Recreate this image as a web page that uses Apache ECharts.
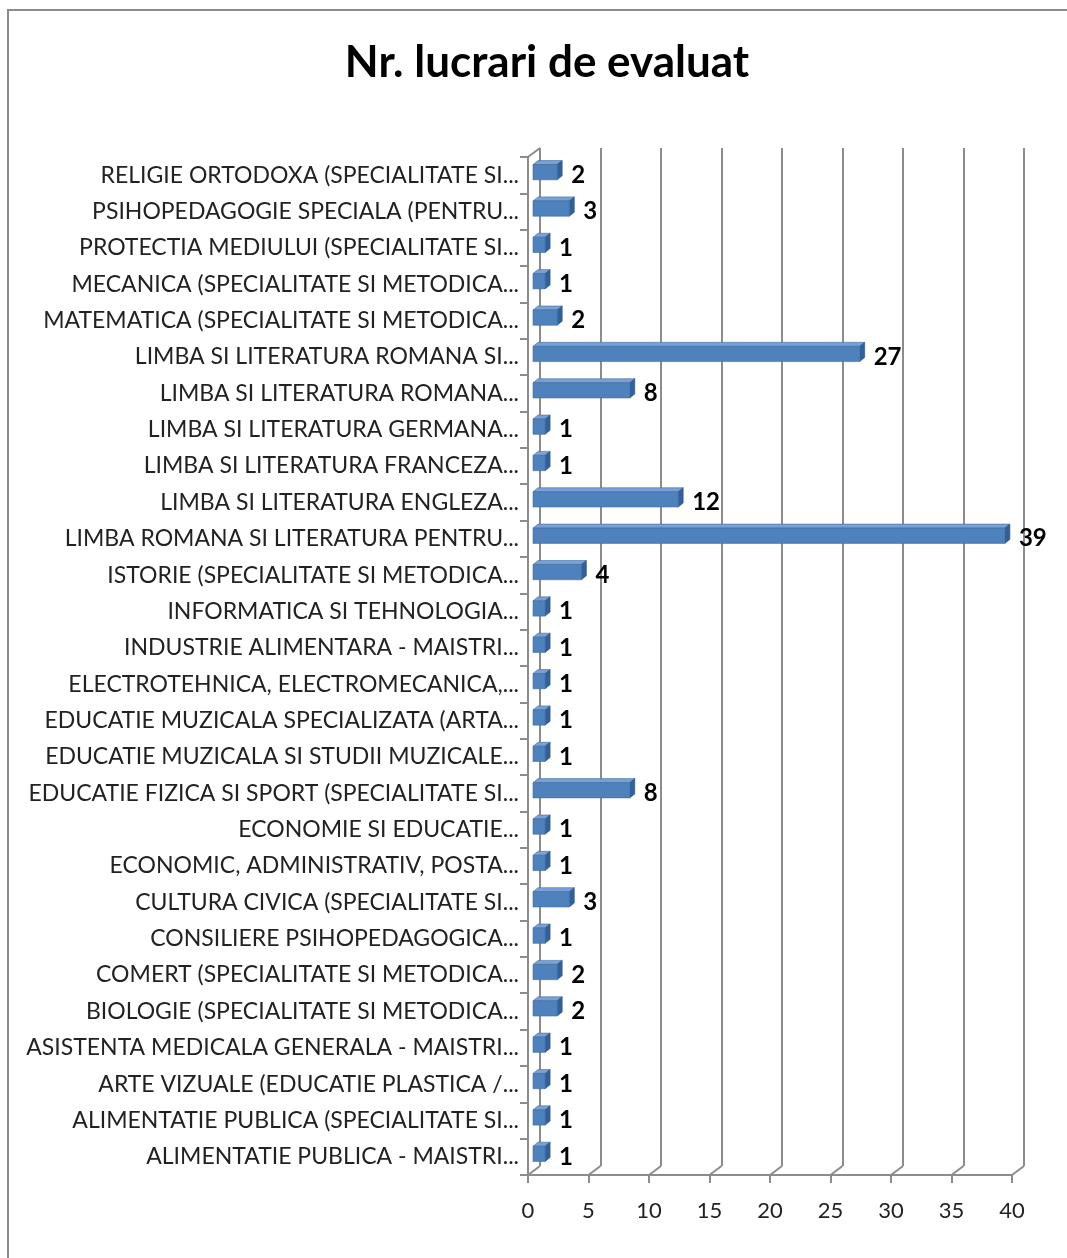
<!DOCTYPE html>
<html>
<head>
<meta charset="utf-8">
<script src="https://cdn.jsdelivr.net/npm/echarts@6/dist/echarts.min.js"></script>
<style>
  html, body { margin: 0; padding: 0; background: #fff; }
  #frame {
    position: absolute; left: 7px; top: 9px; width: 1100px; height: 1300px;
    border-left: 2px solid #8c8c8c; border-top: 2px solid #8c8c8c;
  }
  #chart { position: absolute; left: 0; top: 0; width: 1067px; height: 1258px; }
</style>
</head>
<body>
<div id="frame"></div>
<div id="chart"></div>
<script>
// categories listed bottom -> top (same order as the Excel axis)
const categories = [
  'ALIMENTATIE PUBLICA - MAISTRI...',
  'ALIMENTATIE PUBLICA (SPECIALITATE SI...',
  'ARTE VIZUALE (EDUCATIE PLASTICA /...',
  'ASISTENTA MEDICALA GENERALA - MAISTRI...',
  'BIOLOGIE (SPECIALITATE SI METODICA...',
  'COMERT (SPECIALITATE SI METODICA...',
  'CONSILIERE PSIHOPEDAGOGICA...',
  'CULTURA CIVICA (SPECIALITATE SI...',
  'ECONOMIC, ADMINISTRATIV, POSTA...',
  'ECONOMIE SI EDUCATIE...',
  'EDUCATIE FIZICA SI SPORT (SPECIALITATE SI...',
  'EDUCATIE MUZICALA SI STUDII MUZICALE...',
  'EDUCATIE MUZICALA SPECIALIZATA (ARTA...',
  'ELECTROTEHNICA, ELECTROMECANICA,...',
  'INDUSTRIE ALIMENTARA - MAISTRI...',
  'INFORMATICA SI TEHNOLOGIA...',
  'ISTORIE (SPECIALITATE SI METODICA...',
  'LIMBA ROMANA SI LITERATURA PENTRU...',
  'LIMBA SI LITERATURA ENGLEZA...',
  'LIMBA SI LITERATURA FRANCEZA...',
  'LIMBA SI LITERATURA GERMANA...',
  'LIMBA SI LITERATURA ROMANA...',
  'LIMBA SI LITERATURA ROMANA SI...',
  'MATEMATICA (SPECIALITATE SI METODICA...',
  'MECANICA (SPECIALITATE SI METODICA...',
  'PROTECTIA MEDIULUI (SPECIALITATE SI...',
  'PSIHOPEDAGOGIE SPECIALA (PENTRU...',
  'RELIGIE ORTODOXA (SPECIALITATE SI...'
];
const values = [1, 1, 1, 1, 2, 2, 1, 3, 1, 1, 8, 1, 1, 1, 1, 1, 4, 39, 12, 1, 1, 8, 27, 2, 1, 1, 3, 2];
const xTicks = [0, 5, 10, 15, 20, 25, 30, 35, 40];

const chart = echarts.init(document.getElementById('chart'));

const FONT = 'Lato, "Open Sans", sans-serif';
const GRID_COLOR = '#8c8c8c';
// offset of the back wall relative to the front axes
const DEPTH_X = 12, DEPTH_Y = -9;

const option = {
  animation: false,
  title: {
    text: 'Nr. lucrari de evaluat',
    left: 542,
    top: 36,
    textAlign: 'center',
    textStyle: { fontFamily: FONT, fontSize: 44, fontWeight: 'bold', color: '#000' }
  },
  grid: [
    // back wall (gridlines)
    { left: 528 + DEPTH_X, right: 55 - DEPTH_X, top: 157 + DEPTH_Y, bottom: 83 - DEPTH_Y },
    // front axes and bars
    { left: 528, right: 55, top: 157, bottom: 83 }
  ],
  xAxis: [
    {
      gridIndex: 0, type: 'value', min: 0, max: 40, interval: 5,
      axisLine: { show: false }, axisTick: { show: false }, axisLabel: { show: false },
      splitLine: { show: true, lineStyle: { color: GRID_COLOR, width: 2 } }
    },
    {
      gridIndex: 1, type: 'value', min: 0, max: 40, interval: 5,
      axisLine: { show: true, lineStyle: { color: GRID_COLOR, width: 2 } },
      axisTick: { show: true, length: 8, lineStyle: { color: GRID_COLOR, width: 2 } },
      axisLabel: { color: '#222', fontFamily: FONT, fontSize: 22, margin: 25 },
      splitLine: { show: false }
    }
  ],
  yAxis: [
    {
      gridIndex: 0, type: 'category', data: categories, show: false
    },
    {
      gridIndex: 1, type: 'category', data: categories,
      axisLine: { show: true, lineStyle: { color: GRID_COLOR, width: 2 } },
      axisTick: { show: true, length: 8, lineStyle: { color: GRID_COLOR, width: 2 } },
      axisLabel: { color: '#222', fontFamily: FONT, fontSize: 23, margin: 9 },
      splitLine: { show: false }
    }
  ],
  series: [
    {
      // floor/wall connectors between front axes and back wall
      type: 'custom',
      xAxisIndex: 1, yAxisIndex: 1,
      silent: true, clip: false, z: 1,
      data: xTicks.map(t => [t, 0]),
      renderItem: function (params, api) {
        const p = api.coord([api.value(0), 0]);
        const band = api.size([0, 1])[1];
        const y = p[1] + band / 2;
        const children = [{
          type: 'line',
          shape: { x1: p[0], y1: y, x2: p[0] + DEPTH_X, y2: y + DEPTH_Y },
          style: { stroke: GRID_COLOR, lineWidth: 2 }
        }];
        if (params.dataIndex === 0) {
          const top = api.coord([0, categories.length - 1])[1] - band / 2;
          children.push({
            type: 'line',
            shape: { x1: p[0], y1: top, x2: p[0] + DEPTH_X, y2: top + DEPTH_Y },
            style: { stroke: GRID_COLOR, lineWidth: 2 }
          });
        }
        return { type: 'group', children: children };
      }
    },
    {
      // 3D-looking bars
      type: 'custom',
      xAxisIndex: 1, yAxisIndex: 1,
      clip: false, z: 3,
      data: values.map((v, i) => [v, i]),
      renderItem: function (params, api) {
        const v = api.value(0);
        const p0 = api.coord([0, api.value(1)]);
        const p1 = api.coord([v, api.value(1)]);
        const band = api.size([0, 1])[1];
        const h = band * 0.42;
        const dx = 5, dy = -4;
        const x0 = p0[0] + 5, x1 = p1[0] + 5;
        const yT = p0[1] - 3 - h / 2, yB = yT + h;
        return {
          type: 'group',
          children: [
            { type: 'polygon', shape: { points: [[x0, yT], [x0 + dx, yT + dy], [x1 + dx, yT + dy], [x1, yT]] },
              style: { fill: '#7aa1d6', stroke: '#3f6da3', lineWidth: 0.6 } },
            { type: 'polygon', shape: { points: [[x1, yT], [x1 + dx, yT + dy], [x1 + dx, yB + dy], [x1, yB]] },
              style: { fill: '#34609a', stroke: '#2d5487', lineWidth: 0.6 } },
            { type: 'rect', shape: { x: x0, y: yT, width: x1 - x0, height: h },
              style: { fill: '#4f81bd', stroke: '#3f6da3', lineWidth: 0.6 } },
            { type: 'text', style: { text: String(v), x: x1 + dx + 9, y: p0[1], verticalAlign: 'middle',
              fill: '#000', font: 'bold 24px ' + FONT } }
          ]
        };
      }
    }
  ]
};

chart.setOption(option);
</script>
</body>
</html>
